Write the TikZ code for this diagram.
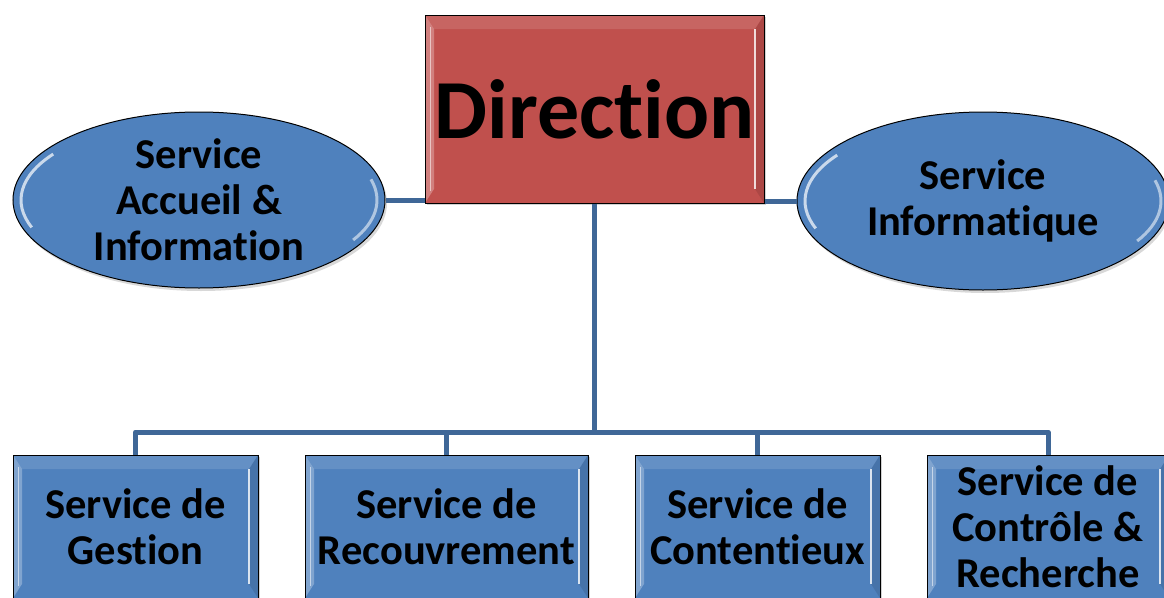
\documentclass[tikz,border=0pt]{standalone}
\usepackage{fontspec}
\setmainfont{Carlito}[Ligatures=NoCommon,RawFeature=-liga]
\usetikzlibrary{shapes.geometric,shadows,calc}
\newcommand\mytti{t\kern0pt i}
\definecolor{boxblue}{HTML}{4F81BD}
\definecolor{boxred}{HTML}{C0504D}
\definecolor{linkblue}{HTML}{3F6797}
\tikzset{
  conn/.style={draw=linkblue,line width=5pt,line join=round},
  bevel/.style={path picture={
     \fill[white,opacity=0.28]
       (path picture bounding box.north west) --
       ([shift={(9pt,-14pt)}]path picture bounding box.north west) --
       ([shift={(9pt,14pt)}]path picture bounding box.south west) --
       (path picture bounding box.south west) -- cycle;
     \fill[black,opacity=0.10]
       (path picture bounding box.north east) --
       ([shift={(-9pt,-14pt)}]path picture bounding box.north east) --
       ([shift={(-9pt,14pt)}]path picture bounding box.south east) --
       (path picture bounding box.south east) -- cycle;
     \draw[white,opacity=0.8,line width=1.5pt]
       ([shift={(-9pt,-14pt)}]path picture bounding box.north east) --
       ([shift={(-9pt,14pt)}]path picture bounding box.south east);
     \draw[white,opacity=0.55,line width=1pt]
       ([shift={(5pt,-12pt)}]path picture bounding box.north west) --
       ([shift={(5pt,12pt)}]path picture bounding box.south west);
     \fill[white,opacity=0.12]
       (path picture bounding box.north west) --
       ([shift={(9pt,-14pt)}]path picture bounding box.north west) --
       ([shift={(-9pt,-14pt)}]path picture bounding box.north east) --
       (path picture bounding box.north east) -- cycle;
  }},
  rbox/.style={rectangle,draw=black,line width=1pt,fill=boxblue,bevel,
     drop shadow={shadow xshift=2pt,shadow yshift=-2pt,opacity=0.35},
     inner sep=0pt,align=center,font=\fontsize{42.5}{46}\selectfont\bfseries},
  oval/.style={ellipse,draw=black,line width=1pt,fill=boxblue,
     drop shadow={shadow xshift=2pt,shadow yshift=-3pt,opacity=0.3},
     inner sep=0pt,minimum width=372pt,minimum height=176pt,align=center,
     font=\fontsize{42.5}{46}\selectfont\bfseries,
     path picture={
       \draw[white,opacity=0.7,line width=3pt]
         ($(path picture bounding box.center)+(145:178pt and 80pt)$)
           arc[start angle=145,end angle=200,x radius=178pt,y radius=80pt];
       \draw[white,opacity=0.55,line width=3pt]
         ($(path picture bounding box.center)+(-30:178pt and 80pt)$)
           arc[start angle=-30,end angle=15,x radius=178pt,y radius=80pt];
     }},
}
\begin{document}
\begin{tikzpicture}[x=1pt,y=-1pt]
\useasboundingbox[clip] (0,0) rectangle (1164,597);
\fill[white] (0,0) rectangle (1164,597);
% top
\node[rbox,fill=boxred,minimum width=339pt,minimum height=188pt,
      font=\fontsize{84}{90}\selectfont\bfseries] (dir) at (594.5,109) {Direc\mytti on};
\node[oval] (acc) at (199,200) {Service\\Accueil \&\\Informa\mytti on};
\node[oval,minimum height=178pt] (info) at (983,201) {Service\\Informa\mytti que};
% bottom
\node[rbox,minimum width=245pt,minimum height=143pt] (ges) at (135.5,526.5) {Service de\\Ges\mytti on};
\node[rbox,minimum width=283pt,minimum height=143pt] (rec) at (446.5,526.5) {Service de\\Recouvrement};
\node[rbox,minimum width=245pt,minimum height=143pt] (con) at (757.5,526.5) {Service de\\Conten\mytti eux};
\node[rbox,minimum width=242pt,minimum height=143pt] (ctl) at (1048,526.5) {Service de\\Contrôle \&\\Recherche};
\coordinate (bus) at (594.5,432);
% connectors
\draw[conn] (acc.east) -- (acc.east -| dir.west);
\draw[conn] (info.west) -- (info.west -| dir.east);
\draw[conn] (dir.south) -- (bus);
\draw[conn] (ges.north) -- (ges.north |- bus) -- (ctl.north |- bus) -- (ctl.north);
\draw[conn] (rec.north) -- (rec.north |- bus);
\draw[conn] (con.north) -- (con.north |- bus);
\end{tikzpicture}
\end{document}
